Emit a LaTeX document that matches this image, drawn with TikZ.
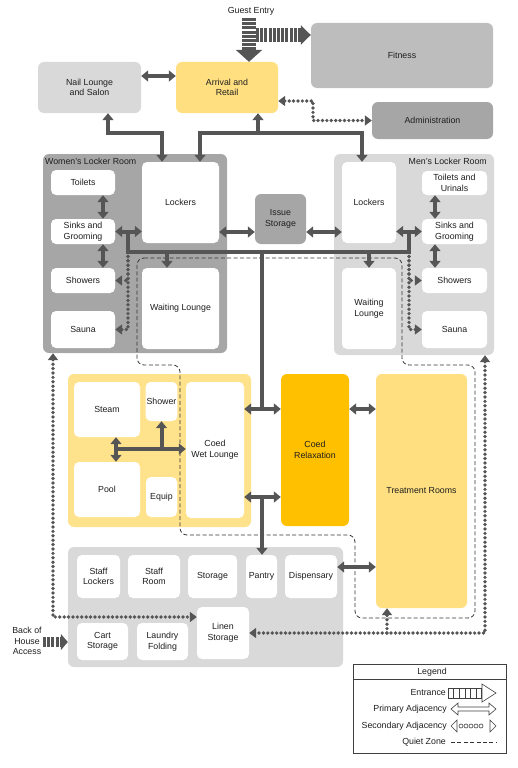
\documentclass[tikz,border=0pt]{standalone}
\usepackage{fontspec}
\setmainfont{Liberation Sans}
\usetikzlibrary{arrows.meta}

\definecolor{arr}{HTML}{555555}
\definecolor{txt}{HTML}{1E1E1E}
\definecolor{darkzone}{HTML}{A6A6A6}
\definecolor{lightzone}{HTML}{D9D9D9}
\definecolor{fitgray}{HTML}{BDBDBD}
\definecolor{paleyel}{HTML}{FFDF80}
\definecolor{wetyel}{HTML}{FFE38C}
\definecolor{amber}{HTML}{FFC000}
\definecolor{legline}{HTML}{404040}

\tikzset{
  sz/.style 2 args={minimum width=#1, minimum height=#2},
  block/.style={rounded corners=6pt, inner sep=1pt, align=center},
  room/.style={block, fill=white, rounded corners=5pt},
  lbl/.style={inner sep=0pt, align=center},
  parr/.tip={Triangle[width=11pt,length=7pt]},
  sarr/.tip={Triangle[width=10pt,length=7pt]},
  earr/.tip={Triangle[width=26pt,length=12pt]},
  farr/.tip={Triangle[width=19pt,length=10pt]},
  barr/.tip={Triangle[width=16pt,length=7pt]},
  primary/.style={draw=arr, line width=4pt},
  secondary/.style={draw=arr, line width=3.7pt, line cap=round, dash pattern=on 0pt off 4.4pt},
  entrance/.style={draw=arr, line width=#1, dash pattern=on 3pt off 1.2pt},
  quiet/.style={draw=black!80, line width=0.8pt, dash pattern=on 4pt off 2.4pt, rounded corners=7pt},
  legsym/.style={draw=legline, line width=0.6pt, fill=white},
}

\begin{document}
\begin{tikzpicture}[x=1pt, y=-1pt, font=\fontsize{8.8}{10.6}\selectfont, text=txt]
  \useasboundingbox (0,0) rectangle (518,768);

  % top row
  \node[lbl] (gtitle) at (251,11) {Guest Entry};
  \node[block, fill=fitgray, sz={182}{65}] (fitness) at (402,55.5) {Fitness};
  \node[block, fill=lightzone, sz={103}{51}] (nail) at (89.5,87.5) {Nail Lounge\\and Salon};
  \node[block, fill=paleyel, sz={102}{51}] (arrival) at (227,87.5) {Arrival and\\Retail};
  \node[block, fill=darkzone, sz={121}{37}] (admin) at (432.5,120.5) {Administration};

  % locker rooms
  \node[block, fill=darkzone, sz={184}{199}] (womenroom) at (135,253.5) {};
  \node[lbl, anchor=west] (wtitle) at (45,161) {Women's Locker Room};
  \node[block, fill=lightzone, sz={160}{201}] (menroom) at (414,254.5) {};
  \node[lbl, anchor=east] (mtitle) at (487,161) {Men's Locker Room};
  \node[block, fill=darkzone, sz={51}{50}] (issue) at (280.5,219) {Issue\\Storage};

  % wet area, relaxation, treatment
  \node[block, fill=wetyel, sz={183}{153}] (wetarea) at (159.5,450.5) {};
  \node[block, fill=amber, sz={68}{152}] (relax) at (315,450) {Coed\\Relaxation};
  \node[block, fill=paleyel, sz={91}{234}] (treat) at (421.5,491) {Treatment Rooms};

  % back of house
  \node[block, fill=lightzone, sz={275}{120}] (boh) at (205.5,607) {};
  \node[lbl] (bohtitle) at (27,641) {Back of\\House\\Access};

  % quiet zone
  \draw[quiet] (137,258) -- (402,258) -- (402,365) -- (475,365) -- (475,618) -- (355,618)
    -- (355,535) -- (180,535) -- (180,365) -- (137,365) -- cycle;

  % rooms
  \node[room, sz={64}{25}] (wtoilets) at (83,182.5) {Toilets};
  \node[room, sz={64}{25}] (wsinks) at (83,231.5) {Sinks and\\Grooming};
  \node[room, sz={64}{25}] (wshowers) at (83,280.5) {Showers};
  \node[room, sz={64}{37}] (wsauna) at (83,329.5) {Sauna};
  \node[room, sz={77}{81}] (wlockers) at (180.5,202.5) {Lockers};
  \node[room, sz={77}{81}] (wlounge) at (180.5,308.5) {Waiting Lounge};
  \node[room, sz={54}{81}] (mlockers) at (369,202.5) {Lockers};
  \node[room, sz={54}{81}] (mlounge) at (369,308.5) {Waiting\\Lounge};
  \node[room, sz={65}{24}] (mtoilets) at (454.5,183) {Toilets and\\Urinals};
  \node[room, sz={65}{25}] (msinks) at (454.5,231.5) {Sinks and\\Grooming};
  \node[room, sz={65}{25}] (mshowers) at (454.5,280.5) {Showers};
  \node[room, sz={65}{37}] (msauna) at (454.5,329.5) {Sauna};
  \node[room, sz={66}{55}] (steam) at (107,409.5) {Steam};
  \node[room, sz={31}{39}] (shower) at (161.5,401.5) {Shower};
  \node[room, sz={66}{55}] (pool) at (107,489.5) {Pool};
  \node[room, sz={31}{40}] (equip) at (161.5,497) {Equip};
  \node[room, sz={58}{136}] (wetlounge) at (215,450) {Coed\\Wet Lounge};
  \node[room, sz={43}{43}] (slockers) at (98.5,576.5) {Staff\\Lockers};
  \node[room, sz={52}{43}] (sroom) at (154,576.5) {Staff\\Room};
  \node[room, sz={49}{43}] (storage) at (212.5,576.5) {Storage};
  \node[room, sz={31}{43}] (pantry) at (261.5,576.5) {Pantry};
  \node[room, sz={52}{43}] (dispensary) at (311,576.5) {Dispensary};
  \node[room, sz={51}{37}] (cart) at (102.5,641.5) {Cart\\Storage};
  \node[room, sz={51}{37}] (laundry) at (162.5,641.5) {Laundry\\Folding};
  \node[room, sz={52}{52}] (linen) at (223,633) {Linen\\Storage};

  % entrances
  \coordinate (gentry) at (249,18);
  \coordinate (gbranch) at (256,35);
  \coordinate (bohin) at (43,642);
  \draw[entrance=14pt, -earr] (gentry) -- (gentry |- arrival.north);
  \draw[entrance=14pt, -farr] (gbranch) -- (gbranch -| fitness.west);
  \draw[entrance=10pt, -barr] (bohin) -- (bohin -| boh.west);

  % primary adjacencies
  \coordinate (toprow) at (0,133);
  \coordinate (nailA) at ([xshift=18.5pt]nail.south);
  \coordinate (arrA) at ([xshift=31pt]arrival.south);
  \coordinate (wlA) at ([xshift=-18.5pt]wlockers.north);
  \coordinate (wlB) at ([xshift=19.5pt]wlockers.north);
  \coordinate (mlA) at ([xshift=-7pt]mlockers.north);
  \draw[primary, parr-parr] ([yshift=11.5pt]nail.east) -- ([yshift=11.5pt]arrival.west);
  \draw[primary, parr-parr] (nailA) |- (toprow -| wlA) -- (wlA);
  \draw[primary, parr-parr] (wlB) |- (toprow -| mlA) -- (mlA);
  \draw[primary, -parr] (arrA |- toprow) -- (arrA);

  \draw[primary, parr-parr] ([xshift=20pt]wtoilets.south) -- ([xshift=20pt]wsinks.north);
  \draw[primary, parr-parr] ([xshift=20pt]wsinks.south) -- ([xshift=20pt]wshowers.north);
  \draw[primary, parr-parr] ([xshift=-19.5pt]mtoilets.south) -- ([xshift=-19.5pt]msinks.north);
  \draw[primary, parr-parr] ([xshift=-19.5pt]msinks.south) -- ([xshift=-19.5pt]mshowers.north);
  \draw[primary, parr-parr] (wsinks.east) -- (wsinks.east -| wlockers.west);
  \draw[primary, parr-parr] (mlockers.east |- msinks.west) -- (msinks.west);
  \coordinate (lockrow) at (0,232);
  \draw[primary, parr-parr] (wlockers.east |- lockrow) -- (issue.west |- lockrow);
  \draw[primary, parr-parr] (issue.east |- lockrow) -- (mlockers.west |- lockrow);

  % corridor and trunk
  \coordinate (wjunc) at (128,252);
  \coordinate (mjunc) at (409,252);
  \coordinate (trunk) at (262,252);
  \coordinate (wlin) at ([xshift=-13.5pt]wlounge.north);
  \draw[primary] (wjunc |- wsinks.east) -- (wjunc) -- (mjunc) -- (mjunc |- msinks.west);
  \draw[primary, -parr] (wlin |- wjunc) -- (wlin);
  \draw[primary, -parr] (mlounge.north |- mjunc) -- (mlounge.north);
  \coordinate (rowA) at (0,409);
  \coordinate (rowB) at (0,497);
  \coordinate (rowC) at (0,567);
  \draw[primary] (trunk) -- (trunk |- rowA);
  \draw[primary, parr-parr] (wetlounge.east |- rowA) -- (relax.west |- rowA);
  \draw[primary, parr-parr] (wetlounge.east |- rowB) -- (relax.west |- rowB);
  \draw[primary, -parr] (trunk |- rowB) -- (trunk |- pantry.north);
  \draw[primary, parr-parr] (relax.east |- rowA) -- (treat.west |- rowA);
  \draw[primary, parr-parr] (dispensary.east |- rowC) -- (treat.west |- rowC);

  % wet area
  \coordinate (wetjunc) at (116,449);
  \draw[primary, parr-parr] ([xshift=9pt]steam.south) -- ([xshift=9pt]pool.north);
  \draw[primary, -parr] (wetjunc) -- (wetjunc -| wetlounge.west);
  \draw[primary, -parr] (wetjunc -| shower.south) -- (shower.south);

  % secondary adjacencies
  \coordinate (admjunc) at (313,101);
  \draw[secondary, sarr-sarr] (arrival.east |- admjunc) -- (admjunc) |- (admin.west);
  \draw[secondary, -sarr] (wjunc) |- (wshowers.east);
  \draw[secondary, -sarr] (wjunc) |- (wsauna.east);
  \draw[secondary, -sarr] (mjunc) |- (mshowers.west);
  \draw[secondary, -sarr] (mjunc) |- (msauna.west);
  \coordinate (wout) at ([xshift=-82pt]womenroom.south);
  \coordinate (mout) at ([xshift=71pt]menroom.south);
  \coordinate (treatin) at ([xshift=-34.5pt]treat.south);
  \coordinate (linrow) at (0,617);
  \draw[secondary, sarr-sarr] (wout) |- (linen.west |- linrow);
  \draw[secondary, sarr-sarr] (mout) |- (linen.east);
  \draw[secondary, -sarr] (treatin |- linen.east) -- (treatin);

  % legend
  \node[draw=legline, line width=0.8pt, sz={153}{89}, inner sep=0pt] (legend) at (429.5,708.5) {};
  \node[lbl] (lgtitle) at (432,672.5) {Legend};
  \coordinate (lgrule) at (0,679);
  \draw[draw=legline, line width=0.8pt] (legend.west |- lgrule) -- (legend.east |- lgrule);
  \node[lbl, anchor=east] (lgent) at (446,693) {Entrance};
  \node[lbl, anchor=east] (lgpri) at (447,709) {Primary Adjacency};
  \node[lbl, anchor=east] (lgsec) at (447,726) {Secondary Adjacency};
  \node[lbl, anchor=east] (lgquiet) at (446,742) {Quiet Zone};
  \foreach \i in {0,...,5}
    \draw[legsym] ({448+5.6*\i},688) rectangle ++(5.6,10);
  \draw[legsym] (482,684) -- (496,693) -- (482,702) -- cycle;
  \draw[legsym] (451,709) -- (458,703) -- (458,707) -- (489,707) -- (489,703) -- (496,709)
    -- (489,715) -- (489,711) -- (458,711) -- (458,715) -- cycle;
  \draw[legsym] (451,726) -- (457,720) -- (457,732) -- cycle;
  \foreach \i in {0,...,4}
    \draw[legsym] ({461+5*\i},726) circle (2pt);
  \draw[legsym] (490,720) -- (496,726) -- (490,732) -- cycle;
  \draw[quiet] (451,742) -- (496,742);
\end{tikzpicture}
\end{document}
